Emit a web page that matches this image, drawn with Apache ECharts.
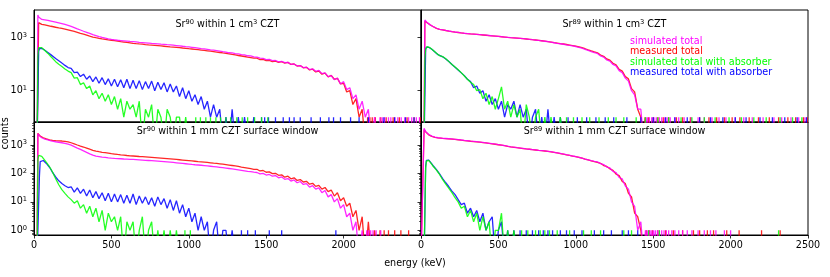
<!DOCTYPE html>
<html><head><meta charset="utf-8">
<script src="https://cdn.jsdelivr.net/npm/echarts@6/dist/echarts.min.js"></script>
<style>html,body{margin:0;padding:0;background:#fff}#c{width:830px;height:277px}</style>
</head><body><div id="c"></div>
<script>
// ---------- data ----------
const energy = [0,10,20,25,30,35,40,50,60,70,80,90,100,110,120,
140,160,180,200,220, 240,260,280,300,320, 340,360,380,400,420, 440,460,480,500,520,
540,560,580,600,620, 640,660,680,700,720, 740,760,780,800,820, 840,860,880,900,920,
940,960,980,1000,1020, 1040,1060,1080,1100,1120, 1140,1160,1180,1200,1220, 1240,1260,1280,1300,1320,
1340,1360,1380,1400,1420, 1440,1460,1480,1500,1520, 1540,1560,1580,1600,1620, 1640,1660,1680,1700,1720,
1740,1760,1780,1800,1820, 1840,1860,1880,1900,1920, 1940,1960,1980,2000,2020, 2040,2060,2080,2100,2120,
2140,2160,2180,2200,2220, 2240,2260,2280,2300,2320, 2340,2360,2380,2400,2420, 2440,2460,2480,2500];

const xTicks = [0,500,1000,1500,2000,2500];
const yTicksTop = [10,1000];
const yTicksBottom = [1,10,100,1000];
const yMinorBottom = [0.7,0.8,0.9,2,3,4,5,6,7,8,9,20,30,40,50,60,70,80,90,200,300,400,500,600,700,800,900,2000,3000,4000,5000,6000];

// Sr90, 1 cm3
const tlSimTotal = [0,0,0,7200,6000,5500,5200,4900,4800,4700,4600,4500,4400,4250,4100,
3900,3650,3400,3150,2900, 2650,2400,2150,1950,1750, 1600,1450,1300,1200,1100, 1020,960,900,860,830, 800,780,760,740,720,
705,690,670,655,640, 625,610,598,585,570, 558,545,533,520,505, 490,475,462,450,435, 420,405,390,377,364,
350,338,326,313,300, 288,270,266,249,245, 229,225,208,205,188, 185,168,167,150,151, 136,138,122,128,114,
117,99,102,86,89, 74,77,63,67,54, 58,44,47,34,37, 26,30,18,22,11, 13,5,7,2,4, 1,2,0,1,0];
const tlSimTotalSpikes = [2235,2250,2265,2290,2305,2330,2350,2372,2395,2420,2440,2470,2490];
const tlMeasTotal = [0,0,0,0,3700,3500,3350,3200,3100,3050,2950,2870,2790,2700,2620,
2480,2350,2230,2110,1990, 1850,1720,1590,1470,1360, 1250,1150,1060,1000,950, 905,865,830,800,775, 740,710,685,660,638,
615,598,582,567,552, 538,525,512,500,488, 476,464,452,441,430, 419,408,398,386,375, 364,353,342,331,320,
309,298,287,276,265, 255,244,233,223,213, 204,195,186,178,170, 168,150,153,136,140, 124,131,117,124,110,
117,98,102,85,89, 73,76,61,65,51, 55,42,46,33,38, 27,29,18,19,9, 10,3,5,1,2, 0];
const tlMeasTotalSpikes = [2155,2170,2185,2205,2240,2275,2320,2360,2410,2455,2495];
const tlSimAbs = [0,0,0,200,420,460,450,420,380,330,290,255,222,190,165,
125,100,82,66,55, 48,30,31,17,20, 12,15,7,10,5, 8,4,7,3,6, 2,5,1,4,2, 3,1,4,0,2, 1,3,0,2,1, 0,2,1,0,1, 1,0,1,0,0];
const tlSimAbsSpikes = [1045,1075,1110,1140,1175,1205,1240,1270,1310,1345,1380,1425,1470,1510];
const tlMeasAbs = [0,0,0,0,300,390,410,400,370,335,300,275,250,225,200,
165,135,110,90,75, 70,48,50,34,42, 27,36,22,33,19, 31,17,28,15,27, 14,26,13,27,12, 25,12,24,11,22,
12,23,10,21,11, 20,9,18,9,15, 6,13,5,10,4, 7,3,6,2,4, 1,3,1,2,0, 1,0,2,0,1, 0,1,0,0,1, 0];
const tlMeasAbsSpikes = [1470,1490,1515,1560,1610,1650,1680,1720,1790,1850,1905,1935,1980,2045,2100,2160,2260,2330,2400,2455];

// Sr89, 1 cm3
const trSimTotal = [0,0,0,4650,4400,4000,3700,3350,3050,2800,2600,2420,2270,2150,2060,
1980,1880,1790,1710,1640, 1580,1520,1470,1430,1390, 1360,1330,1300,1270,1240, 1210,1180,1150,1120,1090, 1060,1030,1000,980,960,
940,920,895,870,840, 815,790,762,735,705, 675,645,615,590,565, 540,515,490,465,435, 400,365,330,300,275,
255,205,186,144,130, 98,86,57,48,30, 23,10,7,2,2, 0];
const trSimTotalSpikes = [1452,1462,1475,1490,1505,1520,1540,1555,1575,1590,1610,1640,1665,1700,1745,1790,1830,1880,1925,1970,2030,2085,2140,2210,2280,2330,2390,2440,2480];
const trMeasTotal = [0,0,0,4300,4300,3950,3650,3300,3000,2780,2580,2400,2250,2140,2050,
1970,1870,1780,1700,1630, 1570,1510,1460,1420,1385, 1355,1325,1295,1265,1235, 1205,1175,1145,1115,1085, 1055,1025,998,978,958,
938,918,894,870,842, 818,794,768,742,714, 686,656,628,602,578, 553,528,503,478,450, 418,383,348,318,292,
270,222,198,158,142, 108,95,64,55,34, 28,12,9,2,1, 0];
const trMeasTotalSpikes = [1447,1470,1500,1530,1565,1600,1650,1690,1740,1800,1860,1910,1960,2010,2060,2120,2180,2250,2310,2370,2420,2470,2495];
const trSimAbs = [0,0,0,150,380,450,460,440,410,370,330,295,260,230,210,
195,160,125,98,78, 62,48,36,27,21, 17,10,11,5,8, 3,6,2,5,14, 2,4,1,3,1, 2,0,3,1,0, 1,2,0,1,0, 1,0,0,1,0];
const trSimAbsSpikes = [940,985,1040,1090,1150,1210,1260,1310,1390,1450,1530,1600,1680,1750,1830,1900,1990,2070,2150,2230,2320,2400,2460];
const trMeasAbs = [0,0,0,0,350,440,450,435,405,365,325,290,258,228,205,
190,158,126,97,76, 60,47,37,27,22, 13,15,8,10,4, 7,3,5,2,4, 1,3,2,4,1, 3,1,2,0,1, 2,0,1,0,2, 0,1,0,1,0];
const trMeasAbsSpikes = [950,1010,1070,1130,1190,1245,1330,1420,1500,1580,1640,1720,1800,1870,1950,2030,2100,2190,2270,2350,2430,2490];

// Sr90, 1 mm surface window
const blSimTotal = [0,0,0,2500,2300,2100,1950,1800,1700,1620,1560,1520,1480,1400,1350,
1300,1250,1200,1150,1080, 990,880,780,700,620, 550,490,440,405,390, 375,365,355,347,340, 334,328,322,318,314,
310,305,300,295,290, 285,280,275,270,265, 260,255,249,243,237, 231,225,219,213,207, 202,198,194,189,184,
179,174,169,164,159, 154,149,144,139,134, 129,124,119,115,111, 108,96,101,88,92, 80,84,70,75,62,
66,54,59,47,52, 41,44,33,37,28, 31,21,25,15,18, 10,13,6,8,3, 4,1,2,0,1, 0];
const blSimTotalSpikes = [2150,2162,2175,2190,2210,2240];
const blMeasTotal = [0,0,0,2580,2400,2200,2050,1900,1800,1720,1650,1580,1520,1480,1450,
1420,1400,1380,1350,1290, 1200,1100,1000,920,850, 780,710,650,610,580, 555,535,515,495,480, 465,452,440,428,418,
410,402,394,387,380, 373,366,359,352,345, 338,331,324,317,310, 303,296,289,282,275, 268,261,255,249,243,
237,230,224,218,211, 204,197,190,183,176, 168,161,154,147,140, 140,122,127,110,113, 98,101,86,89,74,
80,65,70,57,61, 50,53,42,45,35, 38,28,32,23,26, 16,21,11,14,7, 9,3,5,1,3, 0,2,0,1,0];
const blMeasTotalSpikes = [2235,2262,2290,2330,2370,2420];
const blSimAbs = [0,0,0,300,430,445,440,400,340,290,245,205,172,140,110,
65,40,27,20,15, 12,9,11,6,8, 4,7,3,6,2, 5,1,4,2,3, 1,3,0,2,1, 2,0,1,3,0, 1,2,0,1,0, 1,0,1,0,1, 0];
const blSimAbsSpikes = [975,1010];
const blMeasAbs = [0,0,0,0,0,80,260,300,285,255,225,195,165,135,108,
75,55,44,37,32, 34,22,31,20,28, 16,26,14,23,13, 21,11,20,10,19, 10,18,9,17,9, 19,8,16,9,15,
8,14,7,15,8, 13,6,12,5,11, 4,8,3,6,2, 4,1,3,1,2, 0,1,2,0,1, 1,0,1,0,0];
const blMeasAbsSpikes = [1340,1380,1430,1520,1600,1950];

// Sr89, 1 mm surface window
const brSimTotal = [0,0,3850,3300,3000,2800,2600,2350,2150,2050,1950,1900,1850,1800,1760,
1720,1690,1660,1630,1590, 1550,1500,1450,1410,1370, 1340,1310,1270,1230,1190, 1150,1110,1070,1030,990, 950,905,865,835,805,
780,755,730,710,690, 670,650,635,620,600, 580,555,530,505,480, 455,435,410,390,370, 345,320,300,280,265,
255,220,206,168,156, 118,106,72,64,36, 28,10,7,1,2, 0];
const brSimTotalSpikes = [1450,1460,1470,1480,1492,1503,1515,1528,1540,1555,1570,1585,1600,1620,1640,1665,1690,1720,1750,1790,1830,1870,1905,1960,2000];
const brMeasTotal = [0,0,3500,3200,2900,2700,2500,2280,2100,2000,1920,1860,1820,1780,1740,
1700,1670,1640,1610,1570, 1530,1480,1435,1395,1355, 1325,1295,1258,1220,1180, 1140,1100,1062,1022,984, 945,900,862,832,802,
777,752,728,708,688, 668,648,632,616,596, 576,551,526,501,477, 452,432,408,388,368, 343,318,298,279,262,
243,228,190,176,145, 128,94,84,52,44, 20,15,4,3,1, 0];
const brMeasTotalSpikes = [1455,1475,1495,1530,1580,1630,1690,1760,1800,1850,1890,1975,2055,2200,2320];
const brSimAbs = [0,0,0,0,150,270,296,290,250,210,175,152,130,110,92,
60,42,30,21,14, 10,6,7,3,5, 2,4,1,3,1, 2,0,1,1,4, 0,1,0,1,0];
const brSimAbsSpikes = [650,690,740,770,800,830,880,960,1050,1100,1160,1310,1360,1470,1540,2310];
const brMeasAbs = [0,0,0,0,180,290,305,295,258,218,182,158,136,116,97,
66,47,34,24,18, 12,8,9,4,6, 3,5,2,4,1, 2,3,0,1,2, 0,1,0,1,0];
const brMeasAbsSpikes = [640,680,720,760,790,820,850,900,940,990,1040,1120,1180,1230,1300,1340,1400];

const titles = [
  'Sr{s|90} within 1 cm{s|3} CZT',
  'Sr{s|89} within 1 cm{s|3} CZT',
  'Sr{s|90} within 1 mm CZT surface window',
  'Sr{s|89} within 1 mm CZT surface window'
];
const seriesNames = ['simulated total','measured total','simulated total with absorber','measured total with absorber'];
const seriesColors = ['#ff00ff','#ff0000','#00ff00','#0000ff'];

// ---------- chart ----------
const FONT = 'DejaVu Sans';
const FS = 9.6;
const FLOOR = 0.1; // zero counts: drawn below the visible range
function build(counts, spikes){
  const d = [];
  for (let i = 0; i < counts.length; i++) d.push([energy[i], counts[i] > 0 ? counts[i] : FLOOR]);
  for (const e of spikes) { d.push([e, FLOOR]); d.push([e, 1]); d.push([e, FLOOR]); }
  return d;
}
const grids = [
  {left:34, top:10, width:387, height:112},
  {left:421, top:10, width:387, height:112},
  {left:34, top:122, width:387, height:113},
  {left:421, top:122, width:387, height:113}
];
const yRange = [[0.659,11090],[0.659,11090],[0.684,6440],[0.684,6440]];
const supRich = {
  b:{fontSize:FS, fontFamily:FONT, color:'#000', lineHeight:12},
  s:{fontSize:6.7, fontFamily:FONT, color:'#000', verticalAlign:'top', lineHeight:8}
};
const xAxes = grids.map((g,i)=>({
  type:'value', gridIndex:i, min:0, max:2500, interval:500,
  axisLine:{show:true, onZero:false, lineStyle:{color:'#000', width:1}},
  axisTick:{show:i>=2, length:3.5, lineStyle:{color:'#000', width:0.8}, customValues: xTicks},
  axisLabel:{show:i>=2, customValues: (i===2 ? xTicks.slice(0,5) : xTicks), fontFamily:FONT, fontSize:FS, color:'#000', margin:5,
    formatter:function(v){ return String(Math.round(v)); }},
  splitLine:{show:false}
}));
const yAxes = grids.map((g,i)=>({
  type:'log', logBase:10, gridIndex:i, min:yRange[i][0], max:yRange[i][1], position:'left',
  axisLine:{show:true, lineStyle:{color:'#000', width:1}},
  axisTick:{show:true, length:3.5, lineStyle:{color:'#000', width:0.8}, customValues:(i<2?yTicksTop:yTicksBottom)},
  axisLabel:{show:(i===0||i===2), customValues:(i<2?yTicksTop:yTicksBottom), margin:7,
    formatter:function(v){ const e = Math.round(Math.log10(v)); return '{b|10}{s|'+e+'}'; }, rich:supRich},
  splitLine:{show:false}, minorTick:{show:false}, minorSplitLine:{show:false}
}));
[2,3].forEach(i=>{
  yAxes.push({
    type:'log', logBase:10, gridIndex:i, min:yRange[i][0], max:yRange[i][1], position:'left', offset:0,
    axisLine:{show:false},
    axisTick:{show:true, length:2, lineStyle:{color:'#000', width:0.6}, customValues:yMinorBottom},
    axisLabel:{show:false}, splitLine:{show:false}
  });
});

const panelData = [
  [[tlSimTotal,tlSimTotalSpikes],[tlMeasTotal,tlMeasTotalSpikes],[tlSimAbs,tlSimAbsSpikes],[tlMeasAbs,tlMeasAbsSpikes]],
  [[trSimTotal,trSimTotalSpikes],[trMeasTotal,trMeasTotalSpikes],[trSimAbs,trSimAbsSpikes],[trMeasAbs,trMeasAbsSpikes]],
  [[blSimTotal,blSimTotalSpikes],[blMeasTotal,blMeasTotalSpikes],[blSimAbs,blSimAbsSpikes],[blMeasAbs,blMeasAbsSpikes]],
  [[brSimTotal,brSimTotalSpikes],[brMeasTotal,brMeasTotalSpikes],[brSimAbs,brSimAbsSpikes],[brMeasAbs,brMeasAbsSpikes]]
];
const drawOrder = [1,0,3,2]; // measured total, simulated total, measured abs, simulated abs
const series = [];
panelData.forEach((p,gi)=>{
  drawOrder.forEach((k,zi)=>{
    series.push({
      type:'line', name:seriesNames[k], xAxisIndex:gi, yAxisIndex:gi,
      data: build(p[k][0], p[k][1]),
      symbol:'none', showSymbol:false, clip:true, silent:true, animation:false,
      lineStyle:{color:seriesColors[k], width:1.3, opacity:0.85},
      itemStyle:{color:seriesColors[k]}, z:2+zi
    });
  });
});

const titleOpts = grids.map((g,i)=>({
  text: titles[i], left: g.left + g.width/2, top: (i<2 ? 18.3 : 125.7), textAlign:'center', padding:0,
  textStyle:{fontFamily:FONT, fontSize:FS, fontWeight:'normal', color:'#000', lineHeight:12, rich:supRich}
}));

const chart = echarts.init(document.getElementById('c'), null, {renderer:'canvas'});
chart.setOption({
  animation:false,
  backgroundColor:'#fff',
  title: titleOpts,
  grid: grids.map(g=>Object.assign({show:true, borderColor:'#000', borderWidth:1, backgroundColor:'transparent'}, g)),
  xAxis: xAxes,
  yAxis: yAxes,
  legend: {
    orient:'vertical', left:625, top:36.5, itemWidth:0, itemHeight:0, itemGap:0, padding:0,
    selectedMode:false, icon:'rect',
    textStyle:{fontFamily:FONT, fontSize:FS, lineHeight:10.3},
    data: seriesNames.map((n,k)=>({name:n, textStyle:{color:seriesColors[k]}}))
  },
  graphic: [
    {type:'text', x:5.5, y:133.4, rotation:Math.PI/2, style:{text:'counts', fontFamily:FONT, fontSize:FS, fill:'#000', align:'center', verticalAlign:'middle'}},
    {type:'text', x:415, y:263.3, style:{text:'energy (keV)', fontFamily:FONT, fontSize:FS, fill:'#000', align:'center', verticalAlign:'middle'}}
  ],
  series: series
});
</script>
</body></html>
